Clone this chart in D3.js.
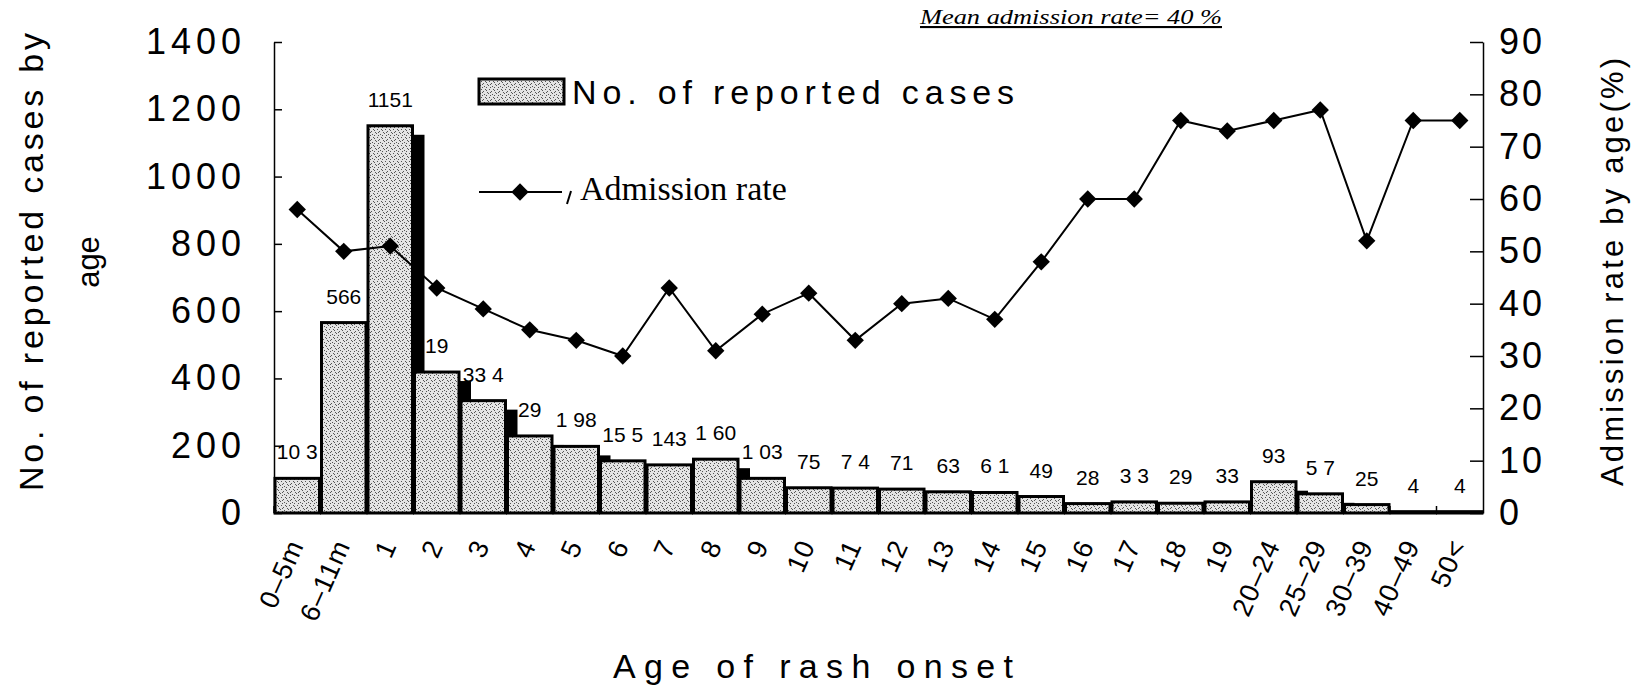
<!DOCTYPE html>
<html>
<head>
<meta charset="utf-8">
<script src="https://cdn.jsdelivr.net/npm/d3@7"></script>
<style>
  body { margin: 0; background: #fff; }
  svg { display: block; }
  .tick text { font-family: "Liberation Sans", Arial, sans-serif; }
</style>
</head>
<body>
<svg id="chart" width="1638" height="692"></svg>
<script>
// age groups along the bottom
const categories = ["0\u20135m", "6\u201311m", "1", "2", "3", "4", "5", "6", "7", "8", "9", "10",
  "11", "12", "13", "14", "15", "16", "17", "18", "19", "20\u201324", "25\u201329", "30\u201339", "40\u201349", "50<"];

// number of reported cases (bars, left axis)
const cases = [103, 566, 1151, 419, 334, 229, 198, 155, 143, 160, 103, 75,
  74, 71, 63, 61, 49, 28, 33, 29, 33, 93, 57, 25, 4, 4];

// labels as printed above the bars
const caseLabels = ["10 3", "566", "1151", "19", "33 4", "29", "1 98", "15 5", "143", "1 60", "1 03", "75",
  "7 4", "71", "63", "6 1", "49", "28", "3 3", "29", "33", "93", "5 7", "25", "4", "4"];

// admission rate in % (line, right axis)
const admission = [58, 50, 51, 43, 39, 35, 33, 30, 43, 31, 38, 42,
  33, 40, 41, 37, 48, 60, 60, 75, 73, 75, 77, 52, 75, 75];

const leftTicks = [0, 200, 400, 600, 800, 1000, 1200, 1400];
const rightTicks = [0, 10, 20, 30, 40, 50, 60, 70, 80, 90];

const svg = d3.select("#chart");

// plot area
const plotLeft = 274, plotRight = 1483, plotTop = 42, plotBottom = 513;

const x = d3.scaleBand().domain(categories).range([plotLeft, plotRight]).padding(0);
const yL = d3.scaleLinear().domain([0, 1400]).range([plotBottom, plotTop]);
const yR = d3.scaleLinear().domain([0, 90]).range([plotBottom, plotTop]);

// stippled fill like the printed bars
const defs = svg.append("defs");
const pat = defs.append("pattern")
  .attr("id", "stip")
  .attr("patternUnits", "userSpaceOnUse")
  .attr("width", 8).attr("height", 8);
pat.append("rect").attr("width", 8).attr("height", 8).attr("fill", "#e4e4e4");
[[1,1],[5,1],[3,3],[7,4],[0,5],[4,6],[6,7],[2,7],[2,4],[6,2]].forEach(p => {
  pat.append("rect").attr("x", p[0]).attr("y", p[1])
    .attr("width", 1).attr("height", 1).attr("fill", "#555");
});

const font = "'Liberation Sans', Arial, sans-serif";
const narrow = "'Liberation Sans Narrow', 'Liberation Sans', Arial, sans-serif";
const serif = "'Liberation Serif', 'Times New Roman', serif";

// left axis
const axL = svg.append("g")
  .attr("transform", `translate(${plotLeft},0)`)
  .call(d3.axisLeft(yL).tickValues(leftTicks).tickFormat(d3.format("d"))
    .tickSizeInner(-8).tickSizeOuter(0).tickPadding(28));
axL.selectAll("text").attr("font-size", 36).attr("letter-spacing", 5).attr("fill", "#000");

// right axis
const axR = svg.append("g")
  .attr("transform", `translate(${plotRight},0)`)
  .call(d3.axisRight(yR).tickValues(rightTicks).tickSizeInner(-13).tickSizeOuter(0).tickPadding(16));
axR.selectAll("text").attr("font-size", 36).attr("letter-spacing", 3).attr("fill", "#000");

svg.selectAll(".domain, .tick line").attr("stroke", "#000").attr("stroke-width", 1.5);

// bars with drop shadow, drawn left to right so each bar covers the previous shadow
const sdx = 11, sdy = 9;
const barG = svg.append("g");
categories.forEach((c, i) => {
  const h = plotBottom - yL(cases[i]);
  if (h - sdy > 0) {
    barG.append("rect")
      .attr("x", x(c) + sdx)
      .attr("y", yL(cases[i]) + sdy)
      .attr("width", x.bandwidth())
      .attr("height", h - sdy)
      .attr("fill", "#000");
  }
  barG.append("rect")
    .attr("x", x(c) + 1)
    .attr("y", yL(cases[i]))
    .attr("width", x.bandwidth() - 2)
    .attr("height", h)
    .attr("fill", "url(#stip)")
    .attr("stroke", "#000")
    .attr("stroke-width", 3);
});

// bottom axis line and small boundary ticks
svg.append("line")
  .attr("x1", plotLeft).attr("x2", plotRight)
  .attr("y1", plotBottom).attr("y2", plotBottom)
  .attr("stroke", "#000").attr("stroke-width", 2);
svg.append("g").selectAll("line")
  .data(categories)
  .enter().append("line")
  .attr("x1", d => x(d)).attr("x2", d => x(d))
  .attr("y1", plotBottom).attr("y2", plotBottom - 7)
  .attr("stroke", "#000").attr("stroke-width", 1.5);

// value labels
svg.append("g").selectAll("text")
  .data(categories)
  .enter().append("text")
  .attr("x", d => x(d) + x.bandwidth() / 2)
  .attr("y", (d, i) => yL(cases[i]) - 19)
  .attr("text-anchor", "middle")
  .attr("font-family", narrow)
  .attr("font-size", 21)
  .text((d, i) => caseLabels[i]);

// admission rate line
const line = d3.line()
  .x((d, i) => x(categories[i]) + x.bandwidth() / 2)
  .y(d => yR(d));
svg.append("path")
  .datum(admission)
  .attr("d", line)
  .attr("fill", "none")
  .attr("stroke", "#000")
  .attr("stroke-width", 2);

const diamond = d3.symbol().type(d3.symbolSquare).size(150);
svg.append("g").selectAll("path")
  .data(admission)
  .enter().append("path")
  .attr("d", diamond)
  .attr("transform", (d, i) => `translate(${x(categories[i]) + x.bandwidth() / 2},${yR(d)}) rotate(45)`)
  .attr("fill", "#000");

// x tick labels, rotated
svg.append("g").selectAll("text")
  .data(categories)
  .enter().append("text")
  .attr("transform", d => `translate(${x(d) + x.bandwidth() / 2 + 7},${plotBottom + 32}) rotate(-66)`)
  .attr("text-anchor", "end")
  .attr("font-family", font)
  .attr("font-size", 27)
  .attr("letter-spacing", 1)
  .text(d => d);

// axis titles
svg.append("text")
  .attr("transform", `translate(43,262) rotate(-90)`)
  .attr("text-anchor", "middle")
  .attr("font-family", font).attr("font-size", 34)
  .attr("textLength", 458).attr("lengthAdjust", "spacing")
  .text("No. of reported cases by");
svg.append("text")
  .attr("transform", `translate(99,262) rotate(-90)`)
  .attr("text-anchor", "middle")
  .attr("font-family", font).attr("font-size", 31)
  .text("age");
svg.append("text")
  .attr("transform", `translate(1623,272) rotate(-90)`)
  .attr("text-anchor", "middle")
  .attr("font-family", font).attr("font-size", 31)
  .attr("textLength", 428).attr("lengthAdjust", "spacing")
  .text("Admission rate by age(%)");
svg.append("text")
  .attr("x", 813).attr("y", 678)
  .attr("text-anchor", "middle")
  .attr("font-family", font).attr("font-size", 34)
  .attr("textLength", 400).attr("lengthAdjust", "spacing")
  .text("Age of rash onset");

// title note
svg.append("text")
  .attr("x", 1071).attr("y", 24)
  .attr("text-anchor", "middle")
  .attr("font-family", serif).attr("font-style", "italic").attr("font-size", 21)
  .attr("textLength", 302).attr("lengthAdjust", "spacingAndGlyphs")
  .attr("text-decoration", "underline")
  .text("Mean admission rate= 40 %");

// legend
const lg = svg.append("g");
lg.append("rect")
  .attr("x", 479).attr("y", 79).attr("width", 85).attr("height", 25)
  .attr("fill", "url(#stip)").attr("stroke", "#000").attr("stroke-width", 3);
lg.append("text")
  .attr("x", 572).attr("y", 104)
  .attr("font-family", font).attr("font-size", 34)
  .attr("textLength", 442).attr("lengthAdjust", "spacing")
  .text("No. of reported cases");
lg.append("line")
  .attr("x1", 479).attr("x2", 562).attr("y1", 192).attr("y2", 192)
  .attr("stroke", "#000").attr("stroke-width", 2);
lg.append("path")
  .attr("d", diamond)
  .attr("transform", "translate(520,192) rotate(45)")
  .attr("fill", "#000");
lg.append("line")
  .attr("x1", 567).attr("x2", 571).attr("y1", 204).attr("y2", 191)
  .attr("stroke", "#000").attr("stroke-width", 2);
lg.append("text")
  .attr("x", 580).attr("y", 200)
  .attr("font-family", serif).attr("font-size", 34)
  .text("Admission rate");
</script>
</body>
</html>
